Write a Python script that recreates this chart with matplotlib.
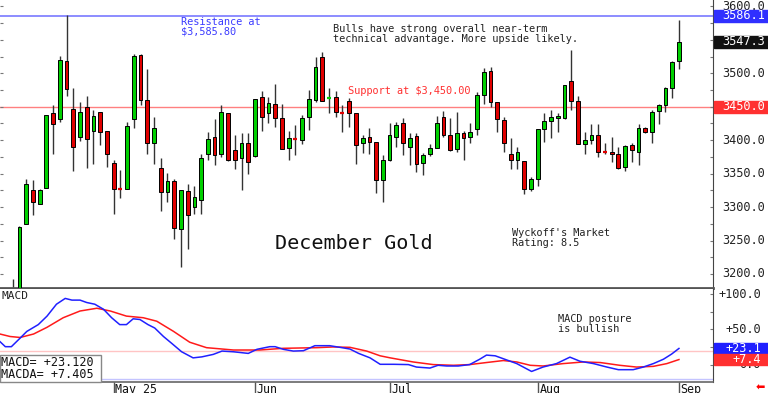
import matplotlib
matplotlib.use('Agg')
import matplotlib.pyplot as plt
import numpy as np
from matplotlib.patches import Rectangle
from matplotlib.ticker import MultipleLocator

plt.rcParams['font.family'] = ['DejaVu Sans Mono', 'DejaVu Sans']

# December gold daily bars, Apr 9 .. Sep 2 2025 (bar index 0..99)
opens = [3165, 3165, 3275, 3326, 3305, 3328.5, 3441, 3431.5, 3518.5, 3446.5,
         3404, 3450, 3414, 3441.5, 3413, 3366.5, 3327.8, 3326.5, 3431.5, 3527.5,
         3460, 3396, 3359, 3322.5, 3338.5, 3267.5, 3324, 3300, 3310, 3380,
         3405, 3379, 3440, 3386, 3374, 3396, 3376.5, 3464, 3440, 3453.5,
         3432.5, 3388.5, 3402.8, 3400, 3435, 3460, 3525, 3462.8, 3464, 3441.8,
         3458.5, 3440, 3396, 3404, 3396.5, 3340, 3371, 3404, 3425, 3390,
         3406, 3366, 3379, 3389, 3435, 3407.5, 3386.5, 3411, 3404, 3416,
         3467.5, 3503.5, 3456.5, 3430, 3380, 3371, 3369, 3327.5, 3342.5, 3416.5,
         3429, 3432.5, 3432.5, 3488.5, 3459, 3394, 3400, 3407.5, 3382.8, 3382.5,
         3379, 3360, 3392.5, 3382.5, 3417.5, 3411.5, 3443.5, 3452.5, 3477.5, 3518.5]
highs = [3192, 3271, 3342.5, 3340, 3327, 3437.5, 3452, 3526, 3586.5, 3477.5,
         3457, 3465.5, 3445, 3441.5, 3413, 3370, 3356, 3427.5, 3529, 3529,
         3506, 3435, 3374, 3351.5, 3342.5, 3325, 3335, 3331.5, 3380, 3411.5,
         3431, 3452.5, 3440, 3407.5, 3411, 3410, 3462, 3473.5, 3465, 3483.5,
         3453.5, 3414, 3422.5, 3437.5, 3475, 3524, 3531.5, 3477.5, 3474, 3452.5,
         3462.5, 3440, 3407.5, 3417.5, 3396.5, 3377.5, 3426, 3427.5, 3432.5, 3410,
         3411, 3381.5, 3394, 3436, 3443.5, 3432.5, 3441.5, 3413.5, 3425, 3472.5,
         3507.5, 3510, 3456.5, 3434, 3402.5, 3390, 3369, 3345, 3416, 3440,
         3445, 3441, 3482.5, 3535, 3466, 3411.5, 3423.5, 3424, 3395, 3405,
         3390, 3393.5, 3395, 3424, 3420, 3445, 3454, 3479, 3518.5, 3579]
lows = [3140, 3150, 3275, 3288, 3305, 3328.5, 3380, 3427.5, 3466, 3354,
        3399, 3359, 3364, 3393, 3360, 3289.5, 3314, 3326.5, 3418, 3452,
        3379, 3364, 3294.5, 3307.5, 3252.5, 3210, 3237.5, 3290, 3290, 3371,
        3363.5, 3375, 3369, 3357.5, 3325, 3349, 3375, 3414, 3425, 3419,
        3387.5, 3371, 3377.5, 3394, 3415, 3457.5, 3458.5, 3440, 3435, 3411.5,
        3419, 3364, 3381.5, 3379, 3321.5, 3307.5, 3369, 3390, 3377.5, 3362.5,
        3352.5, 3347.5, 3376, 3389, 3405, 3384, 3382.5, 3371, 3395, 3407.5,
        3454, 3449, 3411.5, 3382.5, 3357.5, 3357.5, 3320, 3324, 3331.5, 3397.5,
        3403.5, 3411.5, 3431, 3445, 3394, 3379, 3394, 3375, 3379, 3367.5,
        3357.5, 3354, 3367.5, 3362.5, 3410, 3396, 3423.5, 3442.5, 3462.5, 3506]
closes = [3150, 3270, 3335, 3308, 3325, 3437.5, 3423.5, 3520, 3476, 3390,
          3441.5, 3402, 3436.5, 3412, 3380, 3327.5, 3327.3, 3421, 3526, 3460,
          3395, 3417.5, 3322.5, 3338.5, 3268.5, 3325, 3287.5, 3315, 3374, 3401,
          3378.5, 3441.5, 3370, 3371, 3396, 3367.5, 3462, 3434, 3455, 3432.5,
          3387.5, 3402.5, 3402.3, 3432.5, 3461.5, 3509, 3458.5, 3463.2, 3442.5, 3441.3,
          3440, 3393.5, 3402.5, 3397.5, 3340, 3371, 3407.5, 3422.5, 3395, 3403.5,
          3365, 3378.5, 3388.5, 3425, 3407.5, 3386, 3410, 3403.5, 3412.5, 3467.5,
          3502.5, 3456.5, 3431, 3396, 3371, 3382.5, 3327.5, 3342.5, 3416, 3429,
          3435, 3436, 3482.5, 3459, 3394, 3400, 3407.5, 3382.5, 3382.3, 3379,
          3359, 3391.5, 3385, 3417.5, 3411.5, 3442.5, 3452.5, 3477.5, 3516.5, 3547.3]

month_idx = [15, 36, 56, 78, 99]
month_labels = ['May 25', 'Jun', 'Jul', 'Aug', 'Sep']
price_labels = [3200, 3250, 3300, 3350, 3400, 3500, 3600]

resistance = 3585.8
support = 3450.0

# MACD (blue) and its average (red), read at bar positions
macd_x = [-1.9, -1.1, -0.2, 1.1, 2.1, 3.8, 5.1, 6.5, 7.8, 8.8, 10, 11, 12.2, 13.5, 14.7,
          15.9, 16.9, 17.9, 18.9, 20.1, 21.1, 22.4, 23.6, 25.1, 26.8, 28.1, 29.8, 31.1,
          32.8, 35, 36.3, 38.2, 39, 40.2, 41.7, 43.2, 44.9, 47.1, 48.6, 50.1, 51.4, 53.1,
          54.6, 56.6, 58.8, 60, 62, 63.2, 64.5, 66.2, 67.9, 69.4, 70.4, 71.7, 73.1, 74.9,
          77.1, 78.8, 80.8, 82.8, 84.3, 86.3, 88.3, 90, 92.2, 93.7, 95.2, 96.7, 97.9, 99]
macd = [32.8, 25.6, 25.6, 37.7, 47.2, 56.8, 68.8, 85.6, 93.8, 91.4, 91.4, 88, 85.6, 78.4, 66.5,
        56.8, 56.8, 65, 64, 56.8, 52, 40, 30.5, 18.4, 9.8, 11.2, 14.7, 19.4,
        18.4, 16.1, 21.9, 25.6, 25.6, 21.9, 19.4, 19.9, 27, 27, 24.7, 22.3, 16.1, 9.8,
        0.7, 0.7, 0.3, -3.2, -4.6, -0.7, -1.7, -1.7, 0.3, 7.9, 13.7, 12.7, 7.9, 1.7,
        -9.4, -3.2, 1.7, 10.8, 5, 1.7, -3.2, -6.9, -6.9, -3.2, 1.7, 7.9, 15.1, 23.1]
macda_x = [-1.9, -0.4, 1.1, 3.1, 5.1, 7.5, 10, 12.5, 14.5, 16.9, 19.4, 21.4, 23.9, 26.3,
           28.8, 32.8, 36.7, 40.2, 45.2, 47.6, 50.1, 52.6, 54.6, 56.1, 59.5, 62.5, 65.5,
           67.9, 70.4, 72.9, 74.9, 76.9, 78.8, 81.8, 84.8, 87.3, 90.2, 92.7, 95.2, 97.2, 99]
macda = [43.5, 40, 38.6, 43.5, 53, 66.5, 76, 79.9, 76, 68.8, 66.5, 61.6, 47.2, 31.9,
         24.2, 20.9, 20.9, 23.3, 24.2, 25.2, 24.7, 19.4, 12.7, 9.8, 4, 0.3, -0.7,
         0.3, 3.2, 6, 4, -0.7, -1.7, 1.7, 4, 3.2, -0.7, -3.2, -2.2, 1.7, 7.4]

W, H = 768, 393
fig = plt.figure(figsize=(7.68, 3.93), dpi=100)


def box(x0, y0, x1, y1):
    return [x0 / W, 1 - y1 / H, (x1 - x0) / W, (y1 - y0) / H]


ax = fig.add_axes(box(0, 0, 713, 288))
axm = fig.add_axes(box(0, 289, 713, 381.5))
axd = fig.add_axes(box(0, 381.5, 713, 393))

green, red = '#00d000', '#e00000'
o = np.array(opens)
c = np.array(closes)
idx = np.arange(len(c))
cols = np.where(c >= o, green, red)
doji = np.abs(c - o) < 1

ax.vlines(idx, lows, highs, color='#333333', lw=1.0, zorder=2)
ax.bar(idx[~doji], (c - o)[~doji], bottom=o[~doji], width=0.56,
       color=cols[~doji], edgecolor='black', linewidth=0.7, zorder=3)
ax.hlines(c[doji], idx[doji] - 0.3, idx[doji] + 0.3, colors=cols[doji], lw=1.6, zorder=3)

ax.axhline(resistance, color='#8c8cff', lw=1.4, zorder=1)
ax.axhline(support, color='#ff8080', lw=1.0, zorder=1)

ax.set_xlim(-1.89, 104.06)
ax.set_ylim(3179, 3609.5)
for s in ['top', 'left']:
    ax.spines[s].set_visible(False)
ax.spines['right'].set_color('#444444')
ax.spines['bottom'].set_color('#555555')
ax.spines['bottom'].set_linewidth(2)
ax.set_xticks([])
ax.yaxis.set_major_locator(MultipleLocator(25))
ax.yaxis.set_ticks_position('both')
ax.tick_params(axis='y', direction='in', length=2.5, color='#777777',
               labelleft=False, labelright=False)

# right-hand price scale
yt = ax.get_yaxis_transform()
for p in price_labels:
    ax.text(722 / 713, p, f'{p:.1f}', transform=yt, ha='left', va='center',
            fontsize=8.6, color='#222222', clip_on=False)
for val, bg in [(3586.1, '#3030ff'), (closes[-1], '#111111'), (support, '#ff3030')]:
    ax.add_patch(Rectangle((714 / 713, val - 9), 54 / 713, 18, transform=yt,
                           color=bg, clip_on=False, zorder=5))
    ax.text(722 / 713, val, f'{val:.1f}', transform=yt, ha='left', va='center',
            fontsize=8.6, color='white', clip_on=False, zorder=6)

txt = dict(fontsize=7.4, va='top', ha='left', linespacing=1.0)
fig.text(181 / W, 1 - 17 / H, 'Resistance at\n$3,585.80', color='#3b3bff', **txt)
fig.text(333 / W, 1 - 24 / H, 'Bulls have strong overall near-term\n'
         'technical advantage. More upside likely.', color='#222222', **txt)
fig.text(348 / W, 1 - 86 / H, 'Support at $3,450.00', color='#ff3030', **txt)
fig.text(512 / W, 1 - 228 / H, "Wyckoff's Market\nRating: 8.5", color='#222222', **txt)
fig.text(275 / W, 1 - 234 / H, 'December Gold', fontsize=14.5, va='top', ha='left',
         color='#111111')

# MACD panel
axm.axhline(20, color='#ffc4c4', lw=1.0)
axm.axhline(-20, color='#c4c4ff', lw=1.0)
axm.plot(macda_x, macda, color='#ff1a1a', lw=1.1)
axm.plot(macd_x, macd, color='#2020ff', lw=1.1)
axm.set_xlim(-1.89, 104.06)
axm.set_ylim(-23.6, 107.1)
for s in ['top', 'left']:
    axm.spines[s].set_visible(False)
axm.spines['right'].set_color('#444444')
axm.spines['bottom'].set_color('#666666')
axm.spines['bottom'].set_linewidth(1.2)
axm.set_xticks([])
axm.yaxis.set_major_locator(MultipleLocator(25))
axm.yaxis.set_ticks_position('right')
axm.tick_params(axis='y', direction='in', length=2.5, color='#777777', labelright=False)

ym = axm.get_yaxis_transform()
for v, s in [(100, '+100.0'), (50, '+50.0'), (0, '0.0')]:
    axm.text(761 / 713, v, s, transform=ym, ha='right', va='center', fontsize=8.6,
             color='#222222', clip_on=False)
for val, bg in [(macd[-1], '#2020ff'), (macda[-1], '#ff3030')]:
    axm.add_patch(Rectangle((714 / 713, val - 7.9), 54 / 713, 15.8, transform=ym,
                            color=bg, clip_on=False, zorder=5))
    axm.text(761 / 713, val, f'{val:+.1f}', transform=ym, ha='right', va='center',
             fontsize=8.6, color='white', clip_on=False, zorder=6)

fig.text(2 / W, 1 - 291 / H, 'MACD', fontsize=8.0, va='top', ha='left', color='#222222')
fig.text(558 / W, 1 - 314 / H, 'MACD posture\nis bullish', color='#222222', **txt)

fig.add_artist(Rectangle((0, 1 - 381.7 / H), 101 / W, 26.7 / H, transform=fig.transFigure,
                         facecolor='white', edgecolor='#888888', lw=1.0, zorder=5))
fig.text(1 / W, 1 - 356 / H, 'MACD= +23.120\nMACDA= +7.405', fontsize=8.5, va='top',
         ha='left', linespacing=0.95, color='#111111', zorder=6)

# date strip
axd.set_xlim(-1.89, 104.06)
axd.set_ylim(0, 1)
axd.axis('off')
axd.vlines(month_idx, 0, 1, color='#555555', lw=1.0)
for m, lab in zip(month_idx, month_labels):
    axd.text(m + 0.25, 0.86, lab, fontsize=8.4, va='top', ha='left', color='#111111',
             clip_on=False)

fig.text(760 / W, 1 - 388 / H, '\u2b05', ha='center', va='center', color='#ff0000',
         fontsize=8, family='DejaVu Sans')

fig.savefig('out.png', dpi=100)
